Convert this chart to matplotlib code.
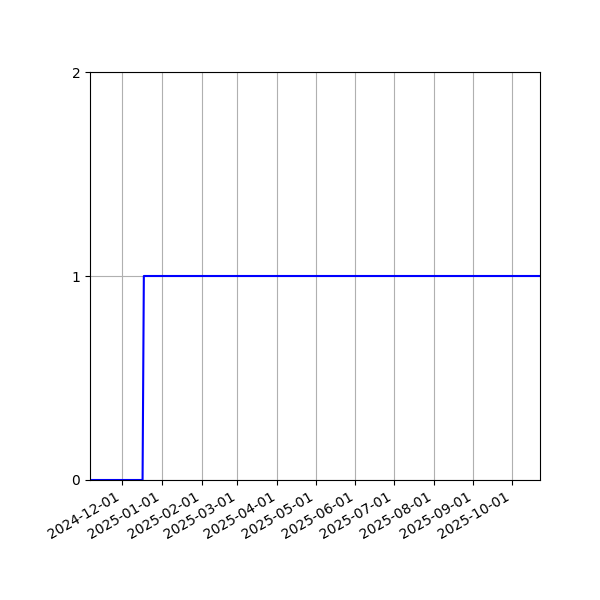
import matplotlib
matplotlib.use("Agg")
import matplotlib.pyplot as plt
import matplotlib.dates as mdates
import numpy as np
import pandas as pd

# step series: zero until mid-December, then one
dates = pd.to_datetime(["2024-11-06", "2024-12-17", "2024-12-18", "2025-10-23"])
values = [0, 0, 1, 1]
y_ticks = [0, 1, 2]

fig, ax = plt.subplots(figsize=(6, 6), dpi=100)
ax.plot(dates, values, color="blue", linewidth=1.5)
ax.set_xlim(dates[0], dates[-1])
ax.set_ylim(0, 2)
ax.set_yticks(y_ticks)
ax.xaxis.set_major_locator(mdates.MonthLocator())
ax.xaxis.set_major_formatter(mdates.DateFormatter("%Y-%m-%d"))
ax.grid(True)
fig.autofmt_xdate()
fig.subplots_adjust(left=0.15, right=0.9, top=0.88, bottom=0.2)
fig.savefig("out.png")
